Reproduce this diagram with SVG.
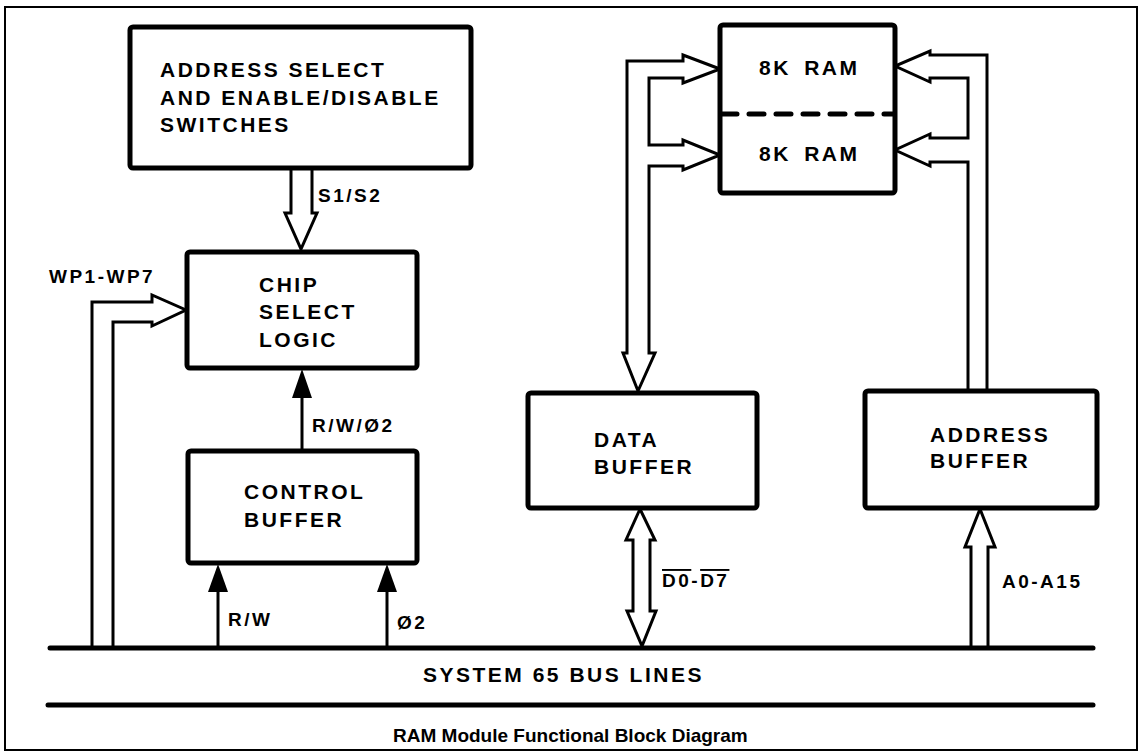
<svg xmlns="http://www.w3.org/2000/svg" width="1141" height="755" viewBox="0 0 1141 755">
<style>
.frame{fill:none;stroke:#000;stroke-width:2}
.box{fill:#fff;stroke:#000;stroke-width:5;stroke-linejoin:round}
.hollow{fill:none;stroke:#000;stroke-width:3;stroke-linejoin:miter}
.wire{fill:none;stroke:#000;stroke-width:3}
.bus{fill:none;stroke:#000;stroke-width:5;stroke-linecap:round}
.head{fill:#000;stroke:none}
.t{font-family:"Liberation Sans",Arial,Helvetica,sans-serif;font-weight:bold;font-size:21px;letter-spacing:2.5px;fill:#000}
.l{font-family:"Liberation Sans",Arial,Helvetica,sans-serif;font-weight:bold;font-size:19px;letter-spacing:2.5px;fill:#000}
.cap{font-family:"Liberation Sans",Arial,Helvetica,sans-serif;font-weight:bold;font-size:19px;fill:#000}
</style>
<rect class="frame" x="5" y="7" width="1132" height="743"/>

<g id="connectors">
  <!-- S1/S2 hollow arrow -->
  <path class="hollow" d="M291,168 V213 H285 L301,249 L317,213 H312 V168"/>
  <!-- WP1-WP7 hollow arrow -->
  <path class="hollow" d="M92,648 V302 H152 V295 L186,310 L152,326 V322 H113 V648"/>
  <!-- Data bus to RAM (left) -->
  <path class="hollow" d="M720,69 L683,55 V61 H627 V353 H623 L638,391 L655,353 H649 V166 H683 V170 L720,155 L683,140 V145 H649 V78 H683 V83 Z"/>
  <!-- Address bus to RAM (right) -->
  <path class="hollow" d="M987,391 V55 H930 V51 L895,66 L930,82 V78 H968 V138 H930 V134 L895,150 L930,166 V162 H968 V391"/>
  <!-- D0-D7 double hollow arrow -->
  <path class="hollow" d="M640,509 L626,540 H633 V611 H627 L642,646 L656,611 H650 V540 H655 Z"/>
  <!-- A0-A15 hollow arrow -->
  <path class="hollow" d="M971,648 V547 H965 L980,509 L995,547 H988 V648"/>
  <!-- R/W/Ø2 -->
  <line class="wire" x1="302" y1="451" x2="302" y2="396"/>
  <polygon class="head" points="292,398 312,398 302,369"/>
  <!-- R/W -->
  <line class="wire" x1="218" y1="648" x2="218" y2="590"/>
  <polygon class="head" points="208,592 228,592 218,564"/>
  <!-- Ø2 -->
  <line class="wire" x1="387" y1="648" x2="387" y2="590"/>
  <polygon class="head" points="377,592 397,592 387,564"/>
  <!-- Bus lines -->
  <line class="bus" x1="50" y1="648" x2="1093" y2="648"/>
  <line class="bus" x1="48" y1="705" x2="1093" y2="705"/>
</g>

<g id="addr-select">
  <rect class="box" x="130" y="27" width="341" height="141" rx="3"/>
  <text class="t" x="160" y="77">ADDRESS SELECT</text>
  <text class="t" x="160" y="105">AND ENABLE/DISABLE</text>
  <text class="t" x="160" y="132">SWITCHES</text>
</g>

<g id="chip-select">
  <rect class="box" x="187" y="252" width="230" height="116" rx="3"/>
  <text class="t" x="259" y="292">CHIP</text>
  <text class="t" x="259" y="319">SELECT</text>
  <text class="t" x="259" y="347">LOGIC</text>
</g>

<g id="control-buffer">
  <rect class="box" x="188" y="451" width="229" height="112" rx="3"/>
  <text class="t" x="244" y="499">CONTROL</text>
  <text class="t" x="244" y="527">BUFFER</text>
</g>

<g id="ram">
  <rect class="box" x="720" y="25" width="175" height="168" rx="3"/>
  <line x1="722" y1="114" x2="893" y2="114" stroke="#000" stroke-width="5" stroke-dasharray="15,12" stroke-linecap="round"/>
  <text class="t" x="759" y="75" word-spacing="5">8K RAM</text>
  <text class="t" x="759" y="161" word-spacing="5">8K RAM</text>
</g>

<g id="data-buffer">
  <rect class="box" x="528" y="393" width="229" height="115" rx="3"/>
  <text class="t" x="594" y="447">DATA</text>
  <text class="t" x="594" y="474">BUFFER</text>
</g>

<g id="address-buffer">
  <rect class="box" x="865" y="391" width="232" height="117" rx="3"/>
  <text class="t" x="930" y="442">ADDRESS</text>
  <text class="t" x="930" y="468">BUFFER</text>
</g>

<g id="labels">
  <text class="l" x="318" y="202">S1/S2</text>
  <text class="l" x="49" y="283">WP1-WP7</text>
  <text class="l" x="312" y="432">R/W/Ø2</text>
  <text class="l" x="228" y="626">R/W</text>
  <text class="l" x="397" y="629" letter-spacing="5">Ø2</text>
  <text class="l" x="662" y="587"><tspan style="text-decoration:overline">D0</tspan>-<tspan style="text-decoration:overline">D7</tspan></text>
  <text class="l" x="1002" y="588">A0-A15</text>
  <text class="t" x="423" y="682" letter-spacing="2">SYSTEM 65 BUS LINES</text>
  <text class="cap" x="393" y="742">RAM Module Functional Block Diagram</text>
</g>
</svg>
